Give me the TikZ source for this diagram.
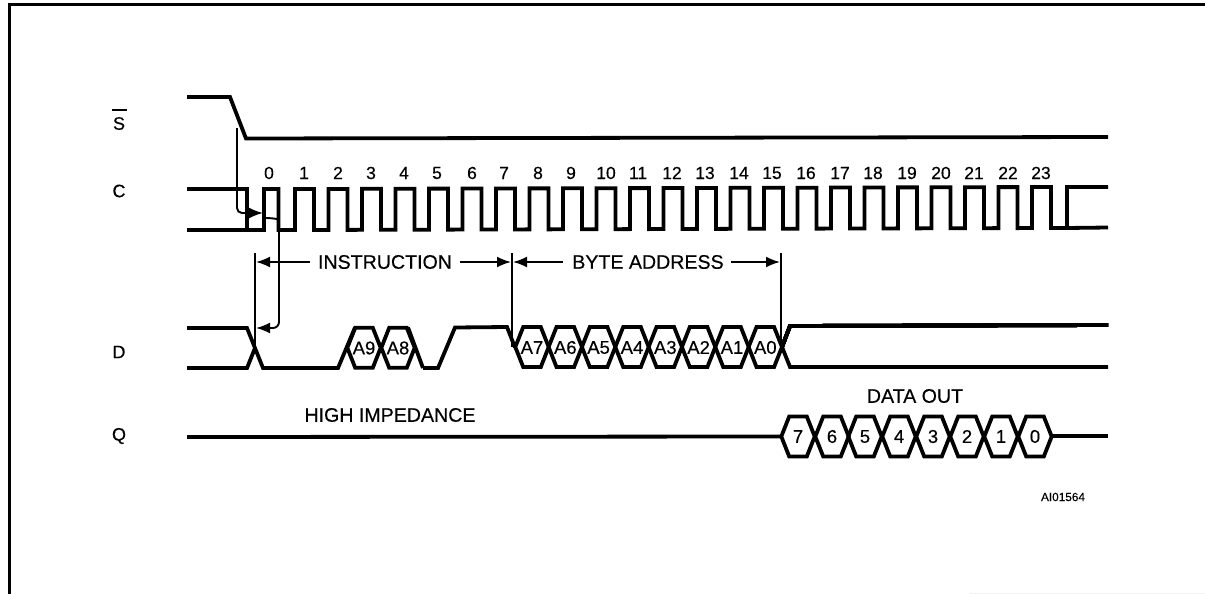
\documentclass[tikz,border=0pt]{standalone}
\usepackage{fontspec}
\setmainfont{Liberation Sans}[FakeBold=0.35]
\usetikzlibrary{arrows.meta,calc}
\tikzset{
  sig/.style={line width=3.8pt,line join=miter,line cap=butt},
  frameline/.style={line width=3.4pt},
  timing/.style={line width=2.3pt},
  dimline/.style={line width=1.9pt,-{Latex[length=14pt,width=11pt]}},
  caption/.style={font=\fontsize{19.6}{21}\selectfont,inner sep=0pt},
  pinlabel/.style={font=\fontsize{18}{20}\selectfont,inner sep=0pt},
  clocknum/.style={font=\fontsize{17.5}{19}\selectfont,inner sep=0pt},
  addr/.style={font=\fontsize{18.5}{20}\selectfont,inner sep=0pt},
  datanum/.style={font=\fontsize{18.5}{20}\selectfont,inner sep=0pt},
  ident/.style={font=\fontsize{11.8}{13}\selectfont,inner sep=0pt},
}
\newcommand{\hexcell}[3]{% centre x, mid y, half height
  \draw[sig] ({#1-16.7},#2) -- ({#1-8.8},{#2-#3}) -- ({#1+8.8},{#2-#3}) -- ({#1+16.7},#2)
    -- ({#1+8.8},{#2+#3}) -- ({#1-8.8},{#2+#3}) -- cycle;
}
\begin{document}
\begin{tikzpicture}[x=1pt,y=-1pt]
\useasboundingbox (0,0) rectangle (1205,594);
% frame
\draw[frameline] (8,4.5) -- (1205,4.5);
\draw[frameline] (9.5,3) -- (9.5,594);
\draw[gray!12,line width=1pt] (970,593.5) -- (1205,593.5);

% pin labels
\node[pinlabel] (pinS) at (119,123.5) {S};
\draw[line width=2pt] (112,110) -- (127,110);
\node[pinlabel] (pinC) at (119,191) {C};
\node[pinlabel] (pinD) at (119,352) {D};
\node[pinlabel] (pinQ) at (119,436) {Q};

% S
\draw[sig] (187,97) -- (230,97) -- (246,138.5) -- (1108,137);

% C
\draw[sig] (187,189) -- (247,189) -- (247,230);
\draw[sig] (187,230) -- (264,230) -- (264,189) -- (278.5,189) -- (278.5,230)
  foreach \n in {0,...,22} { -- ({295+33.5*\n},{230-0.09*\n}) -- ({295+33.5*\n},{189-0.09*\n}) -- ({314+33.5*\n},{189-0.09*\n}) -- ({314+33.5*\n},{230-0.09*\n}) }
  -- (1067,228) -- (1067,187) -- (1108,187);
\draw[sig] (1067,228) -- (1108,227.5);

% clock numbers
\foreach \t/\cx in {0/269,1/304,2/338,3/371,4/404,5/437,6/472,7/504,8/538,9/571,10/606,11/638,12/672,13/705,14/739,15/772,16/806,17/840,18/873,19/907,20/941,21/974,22/1008,23/1041}
  \node[clocknum] (clk\t) at (\cx,173) {\t};

% D
\draw[sig] (187,328) -- (247,328) -- (263,368) -- (338,368) -- (355,327.5);
\draw[sig] (187,368) -- (247,368) -- (255,348);
\draw[sig] (423,368) -- (438,368) -- (455,327.5) -- (507,327) -- (515,347.5);
\draw[sig] (408,327.5) -- (423,368);
\hexcell{364}{347.8}{20}
\hexcell{398}{347.8}{20}
\foreach \cx in {532,565.3,598.6,632,665.3,698.6,732,765.3}
  \hexcell{\cx}{347}{20}
\draw[sig] (782,347) -- (790,326) -- (1108,325);
\draw[sig] (782,347) -- (790,367) -- (1108,367);
\foreach \t/\cx in {A9/364,A8/398}
  \node[addr] (lab\t) at (\cx,348) {\t};
\foreach \t/\cx in {A7/532,A6/565.3,A5/598.6,A4/632,A3/665.3,A2/698.6,A1/732,A0/765.3}
  \node[addr] (lab\t) at (\cx,347.5) {\t};

% Q
\draw[sig] (187,437) -- (781,436.5);
\draw[sig] (1052,436) -- (1108,436);
\foreach \t/\cx in {7/798,6/832,5/865,4/899,3/933,2/967,1/1001,0/1035}{
  \hexcell{\cx}{436.5}{20}
  \node[datanum] (dat\t) at (\cx,436.5) {\t};
}

% captions
\node[caption] (instr) at (385,262) {INSTRUCTION};
\node[caption] (byteaddr) at (648,262) {BYTE ADDRESS};
\node[caption] (himp) at (390,415) {HIGH IMPEDANCE};
\node[caption] (dataout) at (915,396) {DATA OUT};
\node[ident] (ident) at (1063,497) {AI01564};

% timing references
\coordinate (sedge) at (237,128);
\coordinate (sbend) at (237,213);
\coordinate (ctip) at (263,213);
\coordinate (cstart) at (265,218);
\coordinate (cbend) at (279,328);
\coordinate (dtip) at (256,328);
\coordinate (v0top) at (255,253);
\coordinate (v0bot) at (255,350);
\coordinate (v1top) at (512,253);
\coordinate (v1bot) at (512,347);
\coordinate (v2top) at (781,253);
\coordinate (v2bot) at (781,345);

\draw[dimline,rounded corners=5pt] (sedge) -- (sbend) -- (ctip);
\draw[dimline,rounded corners=6pt] (cstart) -- (272,218) .. controls (277,219) and (279,224) .. (279,232) -- (cbend) -- (dtip);
\draw[timing] (v0top) -- (v0bot);
\draw[timing] (v1top) -- (v1bot);
\draw[timing] (v2top) -- (v2bot);

\draw[dimline] (310,262) -- (256,262);
\draw[dimline] (460,262) -- (511,262);
\draw[dimline] (563,262) -- (513,262);
\draw[dimline] (731,262) -- (780,262);
\end{tikzpicture}
\end{document}
